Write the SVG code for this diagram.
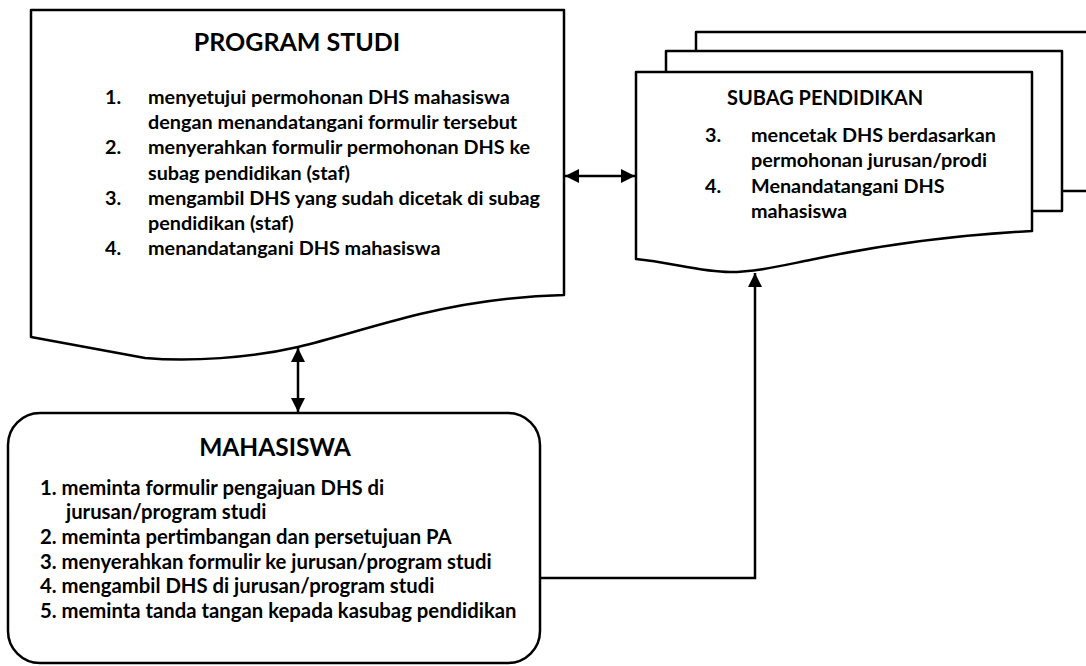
<svg xmlns="http://www.w3.org/2000/svg" width="1086" height="666" viewBox="0 0 1086 666">
  <defs>
    <style>
      .shape { fill: #ffffff; stroke: #000000; stroke-width: 2.5; stroke-linejoin: round; }
      .wire { fill: none; stroke: #000000; stroke-width: 2.5; }
      .title { font-family: Lato, "Open Sans", sans-serif; font-weight: 700; fill: #000000; text-anchor: middle; }
      .item { font-family: Lato, "Open Sans", sans-serif; font-weight: 700; font-size: 19.8px; fill: #000000; }
      .item-wide { font-size: 20.3px; }
    </style>
    <marker id="head" viewBox="0 0 14 14" refX="14" refY="7" markerWidth="14" markerHeight="14" markerUnits="userSpaceOnUse" orient="auto-start-reverse">
      <path d="M0,0 L14,7 L0,14 Z" fill="#000000"/>
    </marker>
  </defs>

  <rect width="1086" height="666" fill="#ffffff"/>

  <!-- Program Studi: document shape -->
  <g id="program-studi">
    <path class="shape" d="M31,10 H564 V295 C520,296 470,302 420,314 C375,325 335,338 298,347 C250,358 190,362 145,358 L31,337 Z"/>
    <text class="title" x="297" y="51" font-size="25">PROGRAM STUDI</text>
    <text class="item" x="105" y="104">1.</text>
    <text class="item" x="148" y="104">menyetujui permohonan DHS mahasiswa</text>
    <text class="item" x="148" y="129">dengan menandatangani formulir tersebut</text>
    <text class="item" x="105" y="154">2.</text>
    <text class="item" x="148" y="154">menyerahkan formulir permohonan DHS ke</text>
    <text class="item" x="148" y="180">subag pendidikan (staf)</text>
    <text class="item" x="105" y="205">3.</text>
    <text class="item" x="148" y="205">mengambil DHS yang sudah dicetak di subag</text>
    <text class="item" x="148" y="230">pendidikan (staf)</text>
    <text class="item" x="105" y="255">4.</text>
    <text class="item" x="148" y="255">menandatangani DHS mahasiswa</text>
  </g>

  <!-- Subag Pendidikan: stacked documents -->
  <g id="subag-pendidikan">
    <rect class="shape" x="696" y="32" width="420" height="159"/>
    <rect class="shape" x="666" y="51" width="396" height="160"/>
    <path class="shape" d="M636,72 H1032 V231 C960,235 880,245 810,260 C780,266 755,272 730,272 C700,272 670,262 636,259 Z"/>
    <text class="title" x="825" y="105" font-size="20">SUBAG PENDIDIKAN</text>
    <text class="item" x="705" y="142">3.</text>
    <text class="item" x="751" y="142">mencetak DHS berdasarkan</text>
    <text class="item" x="751" y="167">permohonan jurusan/prodi</text>
    <text class="item" x="705" y="193">4.</text>
    <text class="item" x="751" y="193">Menandatangani DHS</text>
    <text class="item" x="751" y="218">mahasiswa</text>
  </g>

  <!-- Mahasiswa: rounded box -->
  <g id="mahasiswa">
    <rect class="shape" x="8" y="413" width="532" height="250" rx="32" ry="32"/>
    <text class="title" x="275" y="456" font-size="24.5">MAHASISWA</text>
    <text class="item item-wide" x="40" y="495">1. meminta formulir pengajuan DHS di</text>
    <text class="item item-wide" x="66" y="519">jurusan/program studi</text>
    <text class="item item-wide" x="40" y="544">2. meminta pertimbangan dan persetujuan PA</text>
    <text class="item item-wide" x="40" y="569">3. menyerahkan formulir ke jurusan/program studi</text>
    <text class="item item-wide" x="40" y="593">4. mengambil DHS di jurusan/program studi</text>
    <text class="item item-wide" x="40" y="618">5. meminta tanda tangan kepada kasubag pendidikan</text>
  </g>

  <!-- Connectors -->
  <g id="connectors">
    <line class="wire" x1="565" y1="176" x2="635" y2="176" marker-start="url(#head)" marker-end="url(#head)"/>
    <line class="wire" x1="298" y1="348" x2="298" y2="412" marker-start="url(#head)" marker-end="url(#head)"/>
    <polyline class="wire" points="540,578 755,578 755,273" marker-end="url(#head)"/>
  </g>
</svg>
